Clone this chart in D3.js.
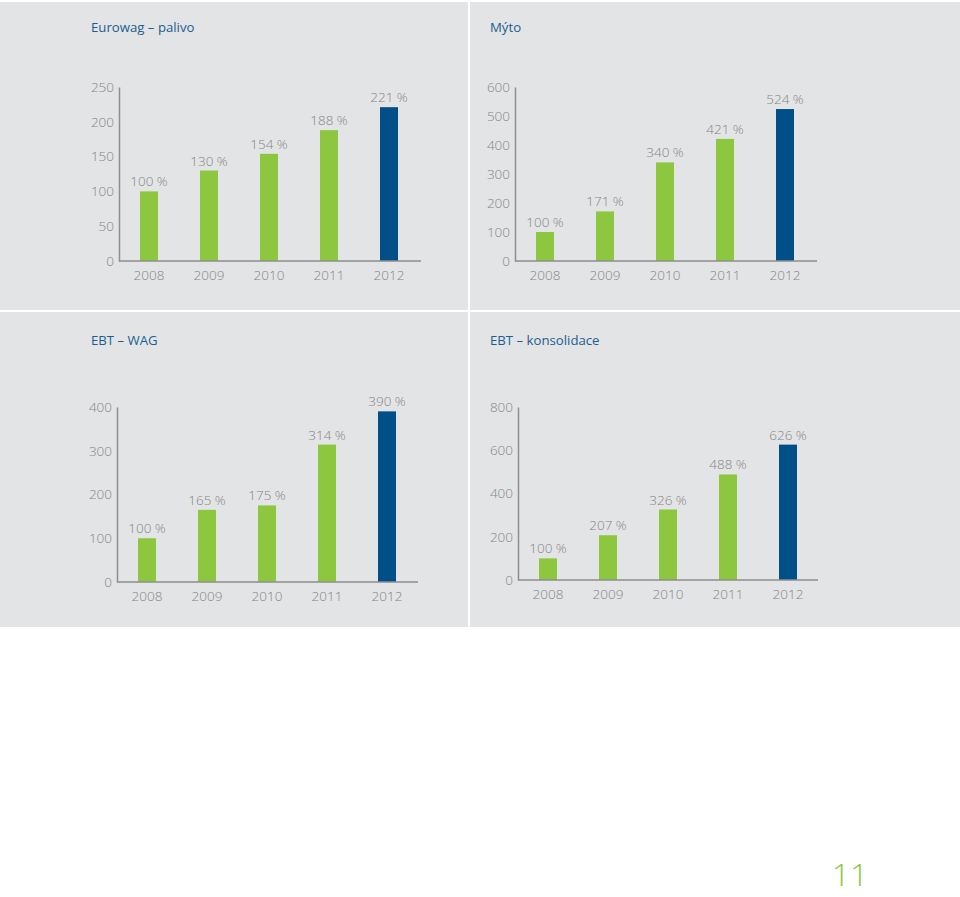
<!DOCTYPE html>
<html>
<head>
<meta charset="utf-8">
<script src="https://cdn.jsdelivr.net/npm/d3@7"></script>
<style>
  html, body { margin: 0; padding: 0; background: #ffffff; }
  svg { display: block; }
  text { font-family: "Open Sans", "Noto Sans", sans-serif; }
</style>
</head>
<body>
<svg id="chart" width="960" height="897"></svg>
<script>
const years = ["2008", "2009", "2010", "2011", "2012"];

const palivoValues = [100, 130, 154, 188, 221];
const mytoValues = [100, 171, 340, 421, 524];
const ebtWagValues = [100, 165, 175, 314, 390];
const ebtKonsValues = [100, 207, 326, 488, 626];

const palivoTicks = [0, 50, 100, 150, 200, 250];
const mytoTicks = [0, 100, 200, 300, 400, 500, 600];
const ebtWagTicks = [0, 100, 200, 300, 400];
const ebtKonsTicks = [0, 200, 400, 600, 800];

const titles = ["Eurowag – palivo", "Mýto", "EBT – WAG", "EBT – konsolidace"];
const pageNumber = "11";

const GREEN = "#8dc63f";
const BLUE = "#004f88";
const PANEL = "#e3e4e5";
const AXIS = "#8e8e8e";
const TICKTXT = "#858585";
const TITLE = "#1c5e92";
const FONT = '"Open Sans", "Noto Sans", sans-serif';

const svg = d3.select("#chart");

const panels = [
  { x0: 0, y0: 2, x1: 468, y1: 310, title: titles[0], values: palivoValues, ticks: palivoTicks,
    axisX: 119, axisEnd: 421, yZero: 261, yTop: 87, titleX: 91, titleY: 32 },
  { x0: 470, y0: 2, x1: 960, y1: 310, title: titles[1], values: mytoValues, ticks: mytoTicks,
    axisX: 515, axisEnd: 817, yZero: 261, yTop: 87, titleX: 490, titleY: 32 },
  { x0: 0, y0: 312, x1: 468, y1: 627, title: titles[2], values: ebtWagValues, ticks: ebtWagTicks,
    axisX: 117, axisEnd: 418, yZero: 582, yTop: 407, titleX: 91, titleY: 345 },
  { x0: 470, y0: 312, x1: 960, y1: 627, title: titles[3], values: ebtKonsValues, ticks: ebtKonsTicks,
    axisX: 518, axisEnd: 818, yZero: 580, yTop: 407, titleX: 490, titleY: 345 }
];

panels.forEach(p => {
  const g = svg.append("g");
  g.append("rect")
    .attr("x", p.x0).attr("y", p.y0)
    .attr("width", p.x1 - p.x0).attr("height", p.y1 - p.y0)
    .attr("fill", PANEL);

  g.append("text")
    .attr("x", p.titleX).attr("y", p.titleY)
    .attr("fill", TITLE)
    .attr("font-size", 13.2)
    .attr("font-weight", 500)
    .text(p.title);

  const x = d3.scaleBand()
    .domain(years)
    .range([p.axisX, p.axisX + 300])
    .paddingInner(0.7)
    .paddingOuter(0.35);

  const y = d3.scaleLinear()
    .domain([0, d3.max(p.ticks)])
    .range([p.yZero, p.yTop]);

  g.selectAll("rect.bar")
    .data(p.values)
    .join("rect")
    .attr("class", "bar")
    .attr("x", (d, i) => x(years[i]))
    .attr("y", d => y(d))
    .attr("width", x.bandwidth())
    .attr("height", d => y(0) - y(d))
    .attr("fill", (d, i) => i === years.length - 1 ? BLUE : GREEN);

  g.selectAll("text.val")
    .data(p.values)
    .join("text")
    .attr("class", "val")
    .attr("x", (d, i) => x(years[i]) + x.bandwidth() / 2)
    .attr("y", d => y(d) - 5)
    .attr("text-anchor", "middle")
    .attr("fill", TICKTXT)
    .attr("font-size", 13.5)
    .attr("font-weight", 300)
    .text(d => d + " %");

  const yAxis = d3.axisLeft(y).tickValues(p.ticks).tickSize(0).tickPadding(5);
  const ya = g.append("g").attr("transform", `translate(${p.axisX},0)`).call(yAxis);
  ya.select(".domain").attr("stroke", AXIS).attr("stroke-width", 1.5);
  ya.selectAll("text").attr("fill", TICKTXT).attr("font-size", 13.5)
    .attr("font-weight", 300).attr("font-family", FONT);

  const xAxis = d3.axisBottom(x).tickSize(0).tickPadding(9);
  const xa = g.append("g").attr("transform", `translate(0,${p.yZero})`).call(xAxis);
  xa.select(".domain").attr("d", `M${p.axisX},0H${p.axisEnd}`)
    .attr("stroke", AXIS).attr("stroke-width", 1.5);
  xa.selectAll("text").attr("fill", TICKTXT).attr("font-size", 13.5)
    .attr("font-weight", 300).attr("font-family", FONT);
});

svg.append("text")
  .attr("x", 850).attr("y", 886)
  .attr("text-anchor", "middle")
  .attr("fill", GREEN)
  .attr("font-size", 32)
  .attr("font-weight", 300)
  .text(pageNumber);
</script>
</body>
</html>
